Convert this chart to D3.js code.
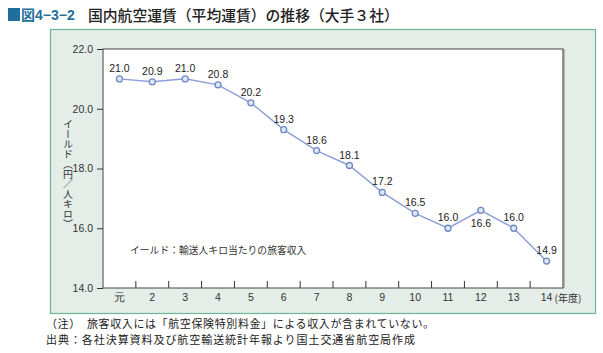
<!DOCTYPE html>
<html><head><meta charset="utf-8">
<script src="https://cdn.jsdelivr.net/npm/d3@7"></script>
<style>body{margin:0;background:#fff;} svg{display:block;font-family:"Noto Sans CJK JP","Noto Sans",sans-serif;}</style>
</head><body><svg id="c" width="603" height="353"></svg>
<script>
const categories = ["元","2","3","4","5","6","7","8","9","10","11","12","13","14"];
const values = [21.0,20.9,21.0,20.8,20.2,19.3,18.6,18.1,17.2,16.5,16.0,16.6,16.0,14.9];
const yTicks = [14.0,16.0,18.0,20.0,22.0];

const svg = d3.select("#c");
// title
svg.append("rect").attr("x",8).attr("y",8).attr("width",12).attr("height",13).attr("fill","#1f6f9c");
svg.append("text").attr("x",21).attr("y",20).attr("font-size",14).attr("font-weight","bold").attr("fill","#1f6f9c")
  .attr("font-family","Liberation Sans, Noto Sans CJK JP").text("図4−3−2");
svg.append("text").attr("x",88).attr("y",20.5).attr("font-size",14.8).attr("font-weight","500").attr("fill","#222")
  .text("国内航空運賃（平均運賃）の推移（大手３社）");

// panel
svg.append("rect").attr("x",50.5).attr("y",29.5).attr("width",545).attr("height",284).attr("fill","#e4ede8").attr("stroke","#6bb598").attr("stroke-width",1.2);

const L=103,R=563,T=49,B=288;
const x = d3.scaleBand().domain(categories).range([L,R]).padding(0);
const y = d3.scaleLinear().domain([14,22]).range([B,T]);

svg.append("rect").attr("x",L).attr("y",T).attr("width",R-L).attr("height",B-T).attr("fill","#fff");

// y axis
const ya = svg.append("g").attr("transform",`translate(${L},0)`)
  .call(d3.axisLeft(y).tickValues(yTicks).tickFormat(d3.format(".1f")).tickSize(6).tickPadding(4));
ya.select(".domain").remove();
ya.selectAll("line").attr("stroke","#333");
ya.selectAll("text").attr("font-size",10.5).attr("fill","#333").attr("font-family","Liberation Sans, Arial, sans-serif");

// x axis: inner ticks at band boundaries
const xa = svg.append("g").attr("transform",`translate(0,${B})`)
  .call(d3.axisBottom(x).tickSize(0).tickPadding(6));
xa.select(".domain").remove();
xa.selectAll("text").attr("font-size",10.5).attr("fill","#333").attr("font-family","Liberation Sans, Arial, sans-serif");
svg.append("g").selectAll("line").data(categories.slice(1)).join("line")
  .attr("x1",d=>x(d)).attr("x2",d=>x(d)).attr("y1",B).attr("y2",B-7).attr("stroke","#333");
svg.append("text").attr("x",x("14")+x.bandwidth()/2+8).attr("y",B+14).attr("font-size",10).attr("fill","#333").text("(年度)");

// frame
svg.append("rect").attr("x",L).attr("y",T).attr("width",R-L).attr("height",B-T).attr("fill","none").attr("stroke","#444").attr("stroke-width",1);
svg.append("line").attr("x1",R+0.5).attr("x2",R+0.5).attr("y1",T).attr("y2",B).attr("stroke","#888").attr("stroke-width",2);

// y title vertical
svg.append("text").attr("x",68).attr("y",119).attr("font-size",10).attr("fill","#333")
  .style("writing-mode","vertical-rl").text("イールド（円／人キロ）");

// annotation
svg.append("text").attr("x",130).attr("y",254).attr("font-size",9.8).attr("fill","#333").text("イールド：輸送人キロ当たりの旅客収入");

// line
const cx = (d,i)=>x(categories[i])+x.bandwidth()/2;
svg.append("path").datum(values).attr("fill","none").attr("stroke","#8c9fd8").attr("stroke-width",1.5)
  .attr("d",d3.line().x(cx).y(d=>y(d)));
svg.append("g").selectAll("circle").data(values).join("circle")
  .attr("cx",cx).attr("cy",d=>y(d)).attr("r",3).attr("fill","#dfe6f7").attr("stroke","#6f87c6").attr("stroke-width",1.3);
svg.append("g").selectAll("text").data(values).join("text")
  .attr("x",cx).attr("y",(d,i)=>categories[i]==="12"? y(d)+17 : y(d)-7)
  .attr("text-anchor","middle").attr("font-size",10.5).attr("fill","#222").attr("font-family","Liberation Sans, Arial, sans-serif")
  .text(d=>d3.format(".1f")(d));

// notes
svg.append("text").attr("x",46).attr("y",328).attr("font-size",11).attr("fill","#222")
  .attr("textLength",388).attr("lengthAdjust","spacing").text("（注）　旅客収入には「航空保険特別料金」による収入が含まれていない。");
svg.append("text").attr("x",46).attr("y",343.5).attr("font-size",11).attr("fill","#222")
  .attr("textLength",369).attr("lengthAdjust","spacing").text("出典：各社決算資料及び航空輸送統計年報より国土交通省航空局作成");
</script></body></html>
